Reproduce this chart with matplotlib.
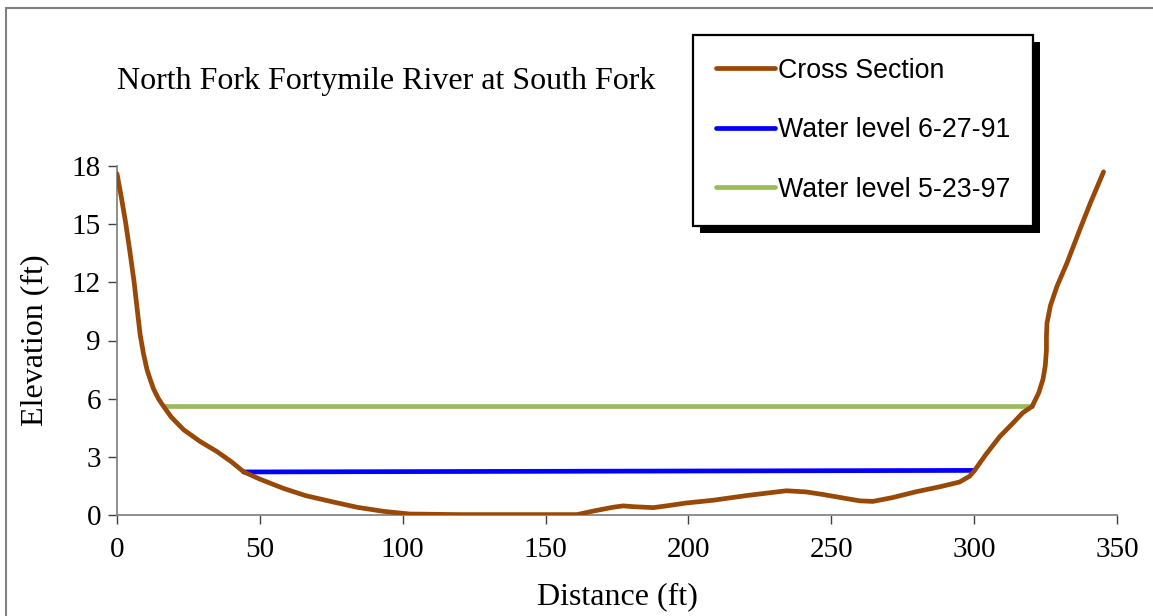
import numpy as np
import matplotlib
matplotlib.use('Agg')
import matplotlib.pyplot as plt
from matplotlib.patches import Rectangle

# cross section profile
dist = [0, 1.5, 3, 4.5, 6, 7, 8.1, 9.3, 10.5, 11.6, 12.8, 14.5, 16.3, 19, 23.3,
        29, 35, 40, 44.3, 50, 58.3, 66, 75.7, 84, 93.2, 102.5,
        120, 140, 161, 166.6, 173.6, 177.2, 180.6, 187.7, 192.3, 199.3, 208.6,
        220.2, 234.3, 241.2, 247, 255.2, 260, 264.5, 271.5, 279.7, 287.8,
        294.9, 298.4, 300, 304, 309, 313, 317, 320.3, 322.6, 324.1, 324.9,
        325.3, 325.3, 325.5, 326.7, 329.0, 332.5, 337.2, 340.7, 345.3]
elev = [17.6, 16.4, 15.1, 13.6, 12.0, 10.7, 9.3, 8.3, 7.5, 7.0, 6.5, 6.0, 5.6,
        5.05, 4.4, 3.8, 3.27, 2.75, 2.23, 1.85, 1.37, 1.0, 0.67, 0.4, 0.19,
        0.05, 0.02, 0.02, 0.02, 0.2, 0.4, 0.47, 0.43, 0.38, 0.47, 0.62, 0.76,
        1.0, 1.25, 1.19, 1.06, 0.85, 0.73, 0.7, 0.9, 1.2, 1.45, 1.7, 2.0,
        2.27, 3.1, 4.05, 4.65, 5.27, 5.6, 6.3, 7.0, 7.7, 8.5, 9.2, 9.9,
        10.8, 11.8, 13.0, 14.8, 16.1, 17.7]

wl_1991_x = [44.3, 300]
wl_1991_y = [2.22, 2.3]
wl_1997_x = [16.3, 320.4]
wl_1997_y = [5.6, 5.6]

xticks = [0, 50, 100, 150, 200, 250, 300, 350]
yticks = [0, 3, 6, 9, 12, 15, 18]

W, H = 1153, 616
fig = plt.figure(figsize=(W / 100, H / 100), dpi=100)
ax = fig.add_axes([117 / W, 1 - 515 / H, 1000 / W, 349 / H])

ax.plot(dist, elev, color='#984807', lw=3.4, solid_capstyle='round',
        solid_joinstyle='round', label='Cross Section', zorder=3)
ax.plot(wl_1991_x, wl_1991_y, color='#0000FF', lw=3.4, solid_capstyle='round',
        label='Water level 6-27-91', zorder=2)
ax.plot(wl_1997_x, wl_1997_y, color='#9BBB59', lw=3.4, solid_capstyle='round',
        label='Water level 5-23-97', zorder=2)

ax.set_xlim(0, 350)
ax.set_ylim(0, 18)
ax.set_xticks(xticks)
ax.set_yticks(yticks)
for s in ['top', 'right']:
    ax.spines[s].set_visible(False)
for s in ['left', 'bottom']:
    ax.spines[s].set_color('#868686')
    ax.spines[s].set_linewidth(1.3)
ax.tick_params(direction='out', length=6.5, width=1.0, color='#404040',
               labelsize=21, pad=5)
for lab in ax.get_xticklabels() + ax.get_yticklabels():
    lab.set_fontfamily('Liberation Serif')
ax.tick_params(axis='x', pad=9)

ax.set_xlabel('Distance (ft)', fontfamily='Liberation Serif', fontsize=23, labelpad=14)
ax.set_ylabel('Elevation (ft)', fontfamily='Liberation Serif', fontsize=23, labelpad=16)

fig.text(386 / W, 1 - 82 / H, 'North Fork Fortymile River at South Fork',
         fontfamily='Liberation Serif', fontsize=23, ha='center', va='center')

leg = fig.legend(loc='upper left', bbox_to_anchor=(693 / W, 1 - 35 / H),
                 prop={'family': 'Liberation Sans', 'size': 19.3},
                 frameon=True, fancybox=False, edgecolor='black',
                 facecolor='white', framealpha=1,
                 handlelength=2.2, handletextpad=0.12, labelspacing=1.25,
                 borderpad=0.85, borderaxespad=0)
leg.get_frame().set_linewidth(1.6)
leg.set_zorder(5)

# solid black drop shadow behind the legend box
fig.canvas.draw()
bb = leg.get_frame().get_window_extent()
shadow = Rectangle((bb.x0 + 7, bb.y0 - 7), bb.width, bb.height,
                   transform=None, facecolor='black', edgecolor='none', zorder=4)
fig.patches.append(shadow)

# outer chart frame
fig.patches.append(Rectangle((6 / W, -0.1), 1.2, 1 - 8 / H + 0.1,
                             transform=fig.transFigure, fill=False,
                             edgecolor='#808080', lw=1.5, zorder=0))

fig.savefig('out.png', dpi=100)
